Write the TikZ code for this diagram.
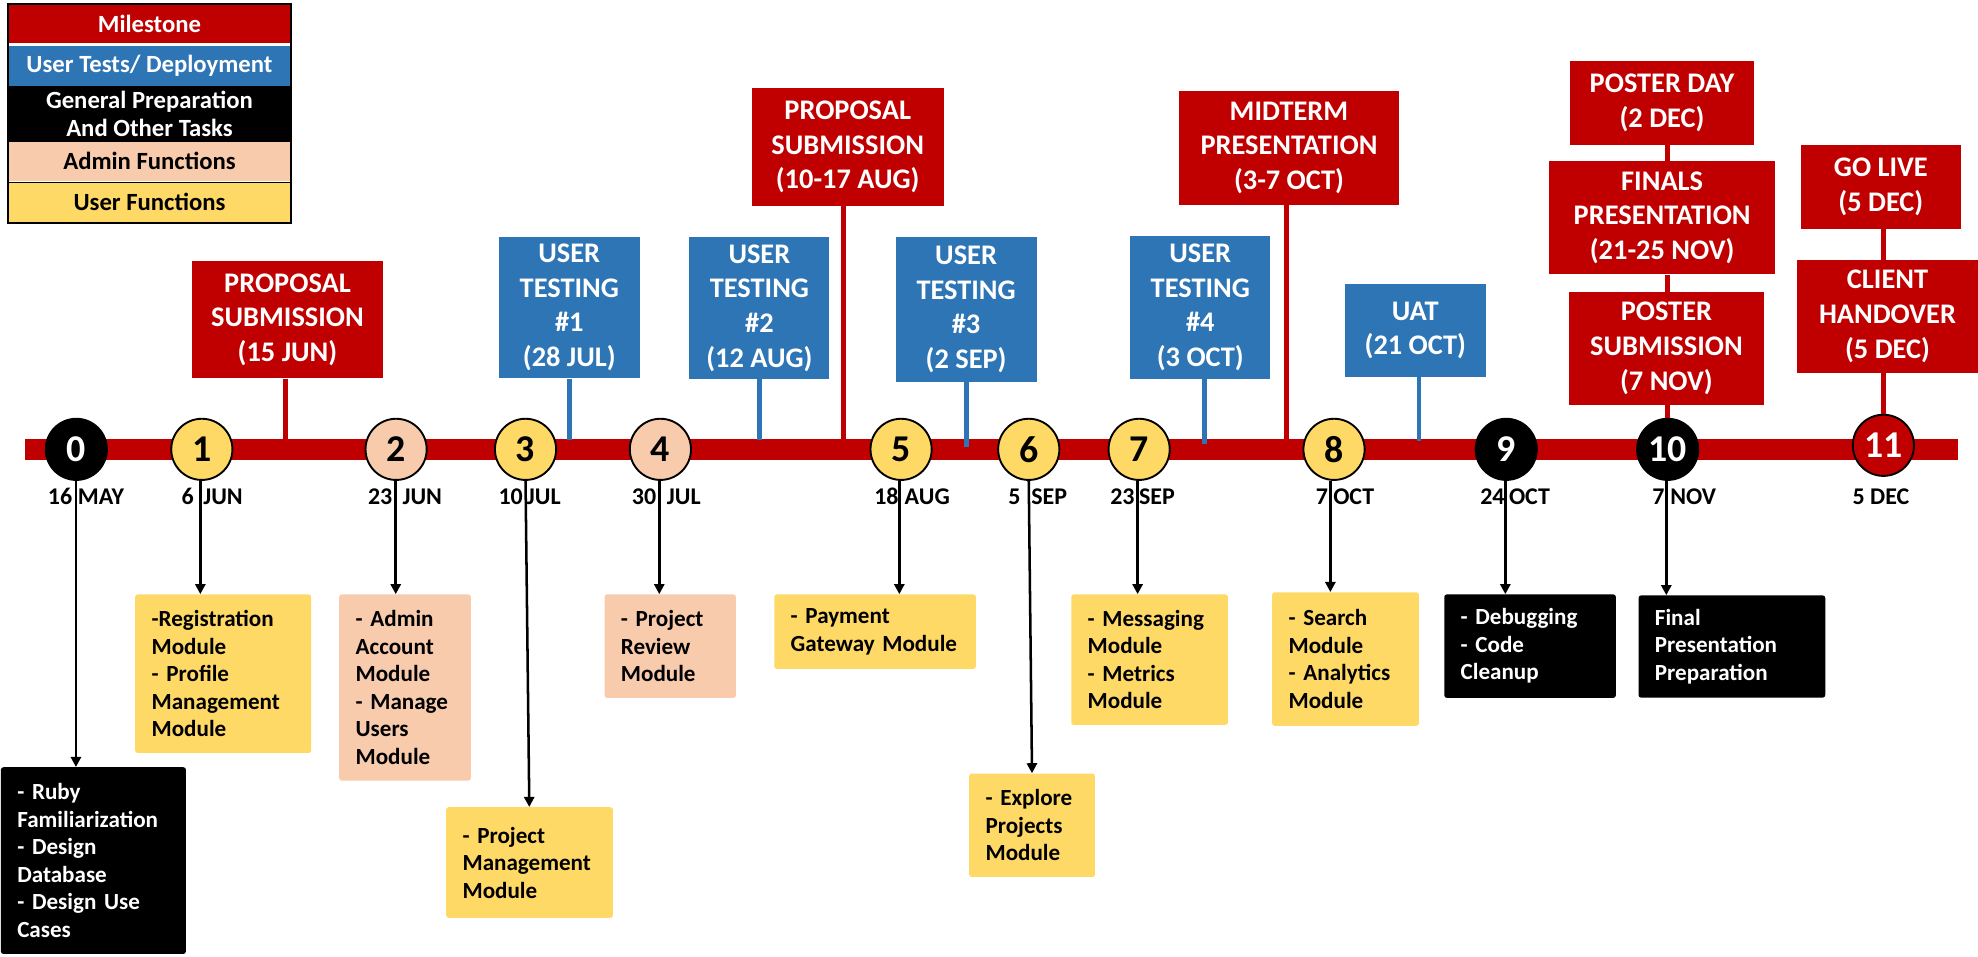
\documentclass[tikz,border=0pt]{standalone}
\usepackage{fontspec}
\setmainfont{Carlito}
\usetikzlibrary{arrows.meta}
\definecolor{msred}{HTML}{C00000}
\definecolor{utblue}{HTML}{2E75B6}
\definecolor{adpeach}{HTML}{F8CBAD}
\definecolor{usyellow}{HTML}{FFD966}
\tikzset{
  hdr/.style={rectangle, inner sep=0pt, align=center, text=white,
    font=\fontsize{22.5}{27.5}\selectfont\bfseries},
  msbox/.style={hdr, fill=msred},
  utbox/.style={hdr, fill=utblue},
  task/.style={rectangle, rounded corners=2pt, anchor=north west,
    inner xsep=13pt, inner ysep=0pt, align=left,
    font=\fontsize{18.3}{21.8}\selectfont\bfseries},
  gentask/.style={task, fill=black, text=white},
  admtask/.style={task, fill=adpeach},
  usrtask/.style={task, fill=usyellow},
  mstone/.style={circle, draw=black, line width=1.5pt, minimum size=48.5pt,
    inner sep=0pt, font=\fontsize{30}{30}\selectfont\bfseries},
  darkstone/.style={mstone, fill=black, text=white},
  datelbl/.style={inner sep=0pt, anchor=base,
    font=\fontsize{19}{19}\selectfont\bfseries},
  legrow/.style={rectangle, inner sep=0pt, minimum width=222.2pt, align=center,
    font=\fontsize{19.6}{22.5}\selectfont\bfseries},
  arr/.style={line width=2pt, -{Triangle[width=8pt,length=8pt]}},
  rlink/.style={msred, line width=4pt},
  blink/.style={utblue, line width=3.5pt}
}
\begin{document}
\begin{tikzpicture}[x=1pt,y=-1pt]
\useasboundingbox (0,0) rectangle (1568,758);

% legend
\node[legrow, fill=msred, text=white, minimum height=30.2pt] (lg1) at (118.5,19.3) {Milestone};
\node[legrow, fill=utblue, text=white, minimum height=31.7pt] (lg2) at (118.5,52.35) {User Tests/ Deployment};
\node[legrow, fill=black, text=white, minimum height=44.1pt] (lg3) at (118.5,90.25) {General Preparation\\And Other Tasks};
\node[legrow, fill=adpeach, minimum height=31.2pt] (lg4) at (118.5,127.9) {Admin Functions};
\node[legrow, fill=usyellow, minimum height=31.2pt] (lg5) at (118.5,160.4) {User Functions};
\draw[line width=1.2pt] (lg5.north west) -- (lg5.north east);
\draw[line width=1.6pt] (6.6,3.4) rectangle (230.4,176.8);

% timeline bar
\node[rectangle, fill=msred, inner sep=0pt, minimum width=1533pt, minimum height=16.3pt] (bar) at (786,356.45) {};

% events above the timeline
\node[msbox, minimum width=151.4pt, minimum height=93pt] (ps1) at (227.9,253.5) {PROPOSAL\\SUBMISSION\\(15 JUN)};
\node[utbox, minimum width=111.4pt, minimum height=112.5pt] (ut1) at (451.3,243.75) {USER\\TESTING\\\#1\\(28 JUL)};
\node[utbox, minimum width=111.1pt, minimum height=112.5pt] (ut2) at (602,244.25) {USER\\TESTING\\\#2\\(12 AUG)};
\node[msbox, minimum width=152pt, minimum height=93pt] (ps2) at (672,116.5) {PROPOSAL\\SUBMISSION\\(10-17 AUG)};
\node[utbox, minimum width=111.7pt, minimum height=114.5pt] (ut3) at (765.85,245.25) {USER\\TESTING\\\#3\\(2 SEP)};
\node[utbox, minimum width=111pt, minimum height=113.5pt] (ut4) at (951.5,243.75) {USER\\TESTING\\\#4\\(3 OCT)};
\node[msbox, minimum width=174.4pt, minimum height=90.5pt] (mid) at (1021.8,117.25) {MIDTERM\\PRESENTATION\\(3-7 OCT)};
\node[utbox, minimum width=111.5pt, minimum height=73.5pt] (uat) at (1121.95,261.85) {UAT\\(21 OCT)};
\node[msbox, minimum width=145.8pt, minimum height=66.2pt] (pday) at (1317.5,81.5) {POSTER DAY\\(2 DEC)};
\node[msbox, minimum width=178.8pt, minimum height=89.9pt] (finals) at (1317.6,172.55) {FINALS\\PRESENTATION\\(21-25 NOV)};
\node[msbox, minimum width=154pt, minimum height=89.5pt] (psub) at (1321,276.25) {POSTER\\SUBMISSION\\(7 NOV)};
\node[msbox, minimum width=126.9pt, minimum height=66.5pt] (golive) at (1491,148.25) {GO LIVE\\(5 DEC)};
\node[msbox, minimum width=143.5pt, minimum height=89.7pt] (client) at (1496.25,250.85) {CLIENT\\HANDOVER\\(5 DEC)};

% connector ends on the bar
\coordinate (ps1e) at (226.5,349);
\coordinate (ut1e) at (451.3,349);
\coordinate (ut2e) at (602,349);
\coordinate (ps2e) at (668.8,349);
\coordinate (ut3e) at (766,354);
\coordinate (ut4e) at (954.8,352);
\coordinate (mide) at (1019.5,349);
\coordinate (uate) at (1125,349.5);

\draw[rlink] (ps1.south -| ps1e) -- (ps1e);
\draw[blink] (ut1.south -| ut1e) -- (ut1e);
\draw[blink] (ut2.south -| ut2e) -- (ut2e);
\draw[rlink] (ps2.south -| ps2e) -- (ps2e);
\draw[blink] (ut3.south -| ut3e) -- (ut3e);
\draw[blink] (ut4.south -| ut4e) -- (ut4e);
\draw[rlink] (mid.south -| mide) -- (mide);
\draw[blink] (uat.south -| uate) -- (uate);

% milestones
\node[darkstone] (c0) at (60.5,356.2) {0};
\node[mstone, fill=usyellow] (c1) at (160,356.2) {1};
\node[mstone, fill=adpeach] (c2) at (314,356.2) {2};
\node[mstone, fill=usyellow] (c3) at (416.6,356.2) {3};
\node[mstone, fill=adpeach] (c4) at (523.5,356.2) {4};
\node[mstone, fill=usyellow] (c5) at (714.3,356.2) {5};
\node[mstone, fill=usyellow] (c6) at (815.5,356.2) {6};
\node[mstone, fill=usyellow] (c7) at (903,356.2) {7};
\node[mstone, fill=usyellow] (c8) at (1057.5,356.2) {8};
\node[darkstone] (c9) at (1194,356.2) {9};
\node[darkstone] (c10) at (1322,356.2) {10};
\node[mstone, fill=msred, text=white] (c11) at (1493,353) {11};

% stacked milestone links
\draw[rlink] (pday.south -| c10) -- (finals.north -| c10);
\draw[rlink] (finals.south -| c10) -- (psub.north -| c10);
\draw[rlink] (psub.south -| c10) -- (c10.north);
\draw[rlink] (golive.south -| c11) -- (client.north -| c11);
\draw[rlink] (client.south -| c11) -- (c11.north);

% dates
\node[datelbl] (d0) at (60.2,400) {\llap{16\hspace{2.9pt}}\rlap{\hspace{1.6pt}MAY}};
\node[datelbl] (d1) at (158.8,400) {\llap{6\hspace{5.1pt}}\rlap{\hspace{2.4pt}JUN}};
\node[datelbl] (d2) at (313.7,400) {\llap{23\hspace{2.7pt}}\rlap{\hspace{5.5pt}JUN}};
\node[datelbl] (d3) at (416.7,400) {\llap{10\hspace{2.2pt}}\rlap{\hspace{1pt}JUL}};
\node[datelbl] (d4) at (522.6,400) {\llap{30\hspace{2.4pt}}\rlap{\hspace{6.1pt}JUL}};
\node[datelbl] (d5) at (712.9,400) {\llap{18\hspace{0.6pt}}\rlap{\hspace{4.3pt}AUG}};
\node[datelbl] (d6) at (816,400) {\llap{5\hspace{7pt}}\rlap{\hspace{1.5pt}SEP}};
\node[datelbl] (d7) at (901.8,400) {\llap{23\hspace{2.4pt}}\rlap{\hspace{1.1pt}SEP}};
\node[datelbl] (d8) at (1054.6,400) {\llap{7\hspace{1.9pt}}\rlap{\hspace{2.3pt}OCT}};
\node[datelbl] (d9) at (1193.3,400) {\llap{24\hspace{0.6pt}}\rlap{\hspace{2.9pt}OCT}};
\node[datelbl] (d10) at (1320.9,400) {\llap{7\hspace{1.4pt}}\rlap{\hspace{3.2pt}NOV}};
\node[datelbl] (d11) at (1491.1,400) {5 DEC};

% task boxes
\node[gentask, text width=120.7pt, minimum height=148pt] (b0) at (0.5,608) {-~Ruby\\Familiarization\\-~Design\\Database\\-~Design~Use\\Cases};
\node[usrtask, text width=113.5pt, minimum height=125.7pt] (b1) at (107,471) {-Registration\\Module\\-~Profile\\Management\\Module};
\node[admtask, text width=78.3pt, minimum height=147.6pt] (b2) at (268.7,471) {-~Admin\\Account\\Module\\-~Manage\\Users\\Module};
\node[usrtask, text width=106.2pt, minimum height=87.7pt] (b3) at (353.5,639.7) {-~Project\\Management\\Module};
\node[admtask, text width=78.2pt, minimum height=82pt] (b4) at (479,471) {-~Project\\Review\\Module};
\node[usrtask, text width=133.8pt, minimum height=59pt] (b5) at (613.6,471) {-~Payment\\Gateway~Module};
\node[usrtask, text width=73.7pt, minimum height=82pt] (b6) at (768.1,613) {-~Explore\\Projects\\Module};
\node[usrtask, text width=98.2pt, minimum height=103.5pt] (b7) at (849,471) {-~Messaging\\Module\\-~Metrics\\Module};
\node[usrtask, text width=90.3pt, minimum height=105.9pt] (b8) at (1008.3,469.3) {-~Search\\Module\\-~Analytics\\Module};
\node[gentask, text width=110pt, minimum height=82pt] (b9) at (1144.7,471) {-~Debugging\\-~Code\\Cleanup};
\node[gentask, text width=122pt, minimum height=81pt] (b10) at (1298.7,471.8) {Final\\Presentation\\Preparation};

% arrow columns
\coordinate (a0) at (60.2,0);
\coordinate (a1) at (158.8,0);
\coordinate (a2) at (313.7,0);
\coordinate (a3) at (419.6,0);
\coordinate (a4) at (522.6,0);
\coordinate (a5) at (712.9,0);
\coordinate (a6) at (818.1,0);
\coordinate (a7) at (901.8,0);
\coordinate (a8) at (1054.6,0);
\coordinate (a9) at (1193.3,0);
\coordinate (a10) at (1320.9,0);

\draw[arr] (c0.south -| a0) -- (b0.north -| a0);
\draw[arr] (c1.south -| a1) -- (b1.north -| a1);
\draw[arr] (c2.south -| a2) -- (b2.north -| a2);
\draw[arr] (c3.south) -- (b3.north -| a3);
\draw[arr] (c4.south -| a4) -- (b4.north -| a4);
\draw[arr] (c5.south -| a5) -- (b5.north -| a5);
\draw[arr] (c6.south) -- (b6.north -| a6);
\draw[arr] (c7.south -| a7) -- (b7.north -| a7);
\draw[arr] (c8.south -| a8) -- (b8.north -| a8);
\draw[arr] (c9.south -| a9) -- (b9.north -| a9);
\draw[arr] (c10.south -| a10) -- (b10.north -| a10);
\end{tikzpicture}
\end{document}
